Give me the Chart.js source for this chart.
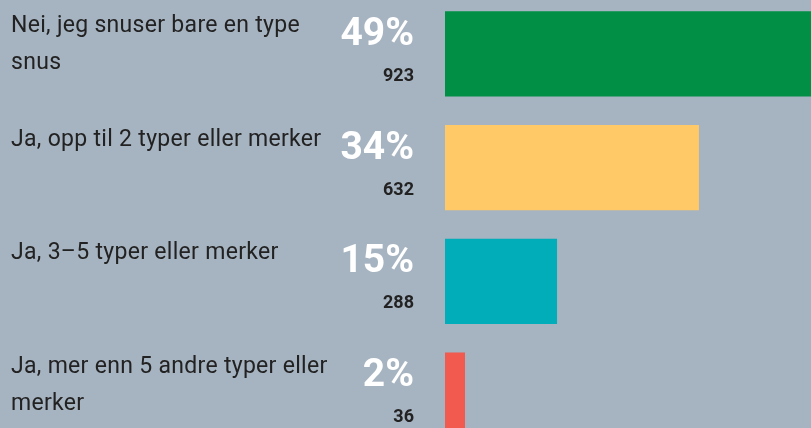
<!DOCTYPE html>
<html>
<head>
<meta charset="utf-8">
<script src="https://cdn.jsdelivr.net/npm/chart.js@4"></script>
<style>
  html, body { margin: 0; padding: 0; background: #a6b3c0; overflow: hidden; }
  #wrap { position: absolute; left: 0; top: -3px; width: 811px; height: 455px; }
</style>
</head>
<body>
<div id="wrap"><canvas id="myChart"></canvas></div>
<script>
const categories = [
  ["Nei, jeg snuser bare en type", "snus"],
  ["Ja, opp til 2 typer eller merker"],
  ["Ja, 3\u20135 typer eller merker"],
  ["Ja, mer enn 5 andre typer eller", "merker"],
];
const percents = [49, 34, 15, 2];
const counts = [923, 632, 288, 36];
const barColors = ["#008f45", "#fec966", "#00adb9", "#f2594f"];

// labels, percentages and counts on the left of each bar
const sideText = {
  id: "sideText",
  afterDatasetsDraw(chart) {
    const c = chart.ctx;
    const yScale = chart.scales.y;
    c.save();
    for (let i = 0; i < categories.length; i++) {
      const y = yScale.getPixelForValue(i);

      c.textAlign = "left";
      c.textBaseline = "alphabetic";
      c.fillStyle = "#222222";
      c.font = "23px Roboto";
      c.letterSpacing = "0.3px";
      categories[i].forEach((line, k) => {
        c.fillText(line, 11, y - 22 + k * 37);
      });
      c.letterSpacing = "0px";

      c.textAlign = "right";
      c.fillStyle = "#ffffff";
      c.font = "bold 39px Roboto";
      c.fillText(percents[i] + "%", 414, y - 9);

      c.fillStyle = "#222222";
      c.font = "bold 18px Roboto";
      c.fillText(String(counts[i]), 414, y + 27);
    }
    c.restore();
  },
};

const ctx = document.getElementById("myChart");

new Chart(ctx, {
  type: "bar",
  data: {
    labels: categories,
    datasets: [
      {
        data: percents,
        backgroundColor: barColors,
        borderWidth: 0,
        barPercentage: 0.75,
        categoryPercentage: 1,
        minBarLength: 20,
      },
    ],
  },
  options: {
    indexAxis: "y",
    responsive: true,
    maintainAspectRatio: false,
    devicePixelRatio: 1,
    animation: false,
    layout: { padding: { left: 445, right: 0, top: 0, bottom: 0 } },
    plugins: {
      legend: { display: false },
      tooltip: { enabled: false },
    },
    scales: {
      x: { display: false, min: 0, max: 49 },
      y: { display: false },
    },
  },
  plugins: [sideText],
});
</script>
</body>
</html>
